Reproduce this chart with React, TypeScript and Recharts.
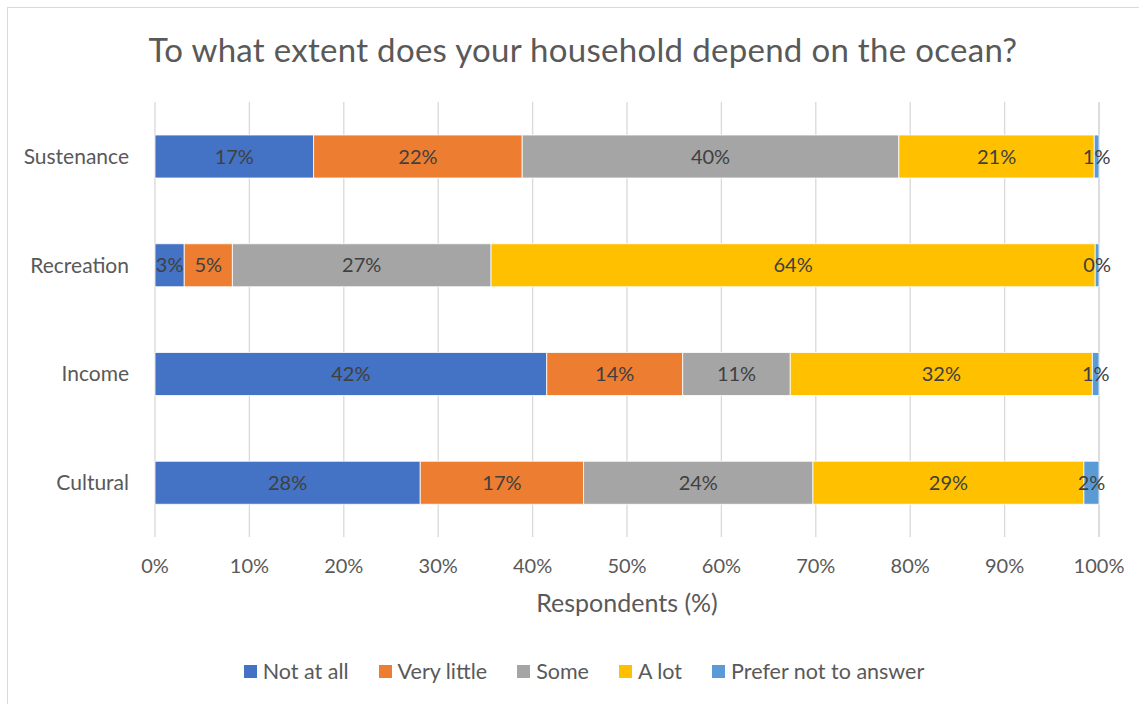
import React from 'react';
import {
  BarChart,
  Bar,
  XAxis,
  YAxis,
  CartesianGrid,
  Legend,
  LabelList
} from 'recharts';

const categories = ['Sustenance', 'Recreation', 'Income', 'Cultural'];
const notAtAll = [16.8, 3.1, 41.5, 28.1];
const veryLittle = [22.1, 5.1, 14.4, 17.3];
const some = [39.9, 27.4, 11.4, 24.3];
const aLot = [20.7, 64.0, 32.0, 28.7];
const preferNot = [0.5, 0.4, 0.7, 1.6];
const xTicks = [0, 10, 20, 30, 40, 50, 60, 70, 80, 90, 100];

const series = [
  { key: 'notAtAll', name: 'Not at all', color: '#4472C4', values: notAtAll },
  { key: 'veryLittle', name: 'Very little', color: '#ED7D31', values: veryLittle },
  { key: 'some', name: 'Some', color: '#A5A5A5', values: some },
  { key: 'aLot', name: 'A lot', color: '#FFC000', values: aLot },
  { key: 'preferNot', name: 'Prefer not to answer', color: '#5B9BD5', values: preferNot }
];

const data = categories.map((c, i) => {
  const row: any = { category: c };
  series.forEach(s => { row[s.key] = s.values[i]; });
  return row;
});

const FONT = 'Lato, "Liberation Sans", sans-serif';
const TEXT = '#595959';

const pct = (v: any) => `${Math.round(Number(v))}%`;

// keep legend in series order (recharts sorts it by name otherwise)
const LegendContent = ({ payload }: any) => {
  const items = [...(payload || [])].sort(
    (a: any, b: any) => series.findIndex(s => s.name === a.value) - series.findIndex(s => s.name === b.value)
  );
  return (
    <div style={{ display: 'flex', justifyContent: 'center', gap: 30, fontFamily: FONT, fontSize: 21.5, color: TEXT, paddingLeft: 64 }}>
      {items.map((p: any) => (
        <div key={p.value} style={{ display: 'flex', alignItems: 'center', gap: 6 }}>
          <div style={{ width: 13, height: 13, background: p.color }} />
          <span>{p.value}</span>
        </div>
      ))}
    </div>
  );
};

export default function App() {
  return (
    <div style={{ position: 'absolute', left: 0, top: 0, width: 1139, height: 704, background: '#fff', fontFamily: FONT, overflow: 'hidden' }}>
      <div style={{ position: 'absolute', left: 7, top: 7, width: 1150, height: 720, border: '1.5px solid #d9d9d9' }} />
      <div style={{ position: 'absolute', left: 0, top: 29, width: 1166, textAlign: 'center', fontSize: 33, letterSpacing: 0.3, color: TEXT }}>
        To what extent does your household depend on the ocean?
      </div>
      <BarChart
        width={1139}
        height={704}
        data={data}
        layout="vertical"
        margin={{ top: 102, right: 40, bottom: 20, left: 5 }}
        barSize={43}
        style={{ position: 'absolute', left: 0, top: 0 }}
      >
        <CartesianGrid horizontal={false} stroke="#d9d9d9" strokeWidth={1.3} />
        <XAxis
          type="number"
          domain={[0, 100]}
          ticks={xTicks}
          tickFormatter={(v: number) => `${v}%`}
          axisLine={false}
          tickLine={false}
          tick={{ fontSize: 20, fill: TEXT, fontFamily: FONT }}
          tickMargin={16}
          height={121}
          label={{ value: 'Respondents (%)', position: 'insideTop', offset: 57, fontSize: 25, fill: TEXT, fontFamily: FONT }}
        />
        <YAxis
          type="category"
          dataKey="category"
          width={150}
          axisLine={false}
          tickLine={false}
          tick={{ fontSize: 21, fill: TEXT, fontFamily: FONT }}
          tickMargin={20}
        />
        <Legend verticalAlign="bottom" content={<LegendContent />} wrapperStyle={{ bottom: 20 }} />
        {series.map(s => (
          <Bar
            key={s.key}
            dataKey={s.key}
            name={s.name}
            stackId="a"
            fill={s.color}
            stroke="#ffffff"
            strokeWidth={0.8}
            isAnimationActive={false}
          >
            <LabelList dataKey={s.key} position="center" formatter={pct} fill="#404040" fontSize={20} fontFamily={FONT} />
          </Bar>
        ))}
      </BarChart>
    </div>
  );
}
